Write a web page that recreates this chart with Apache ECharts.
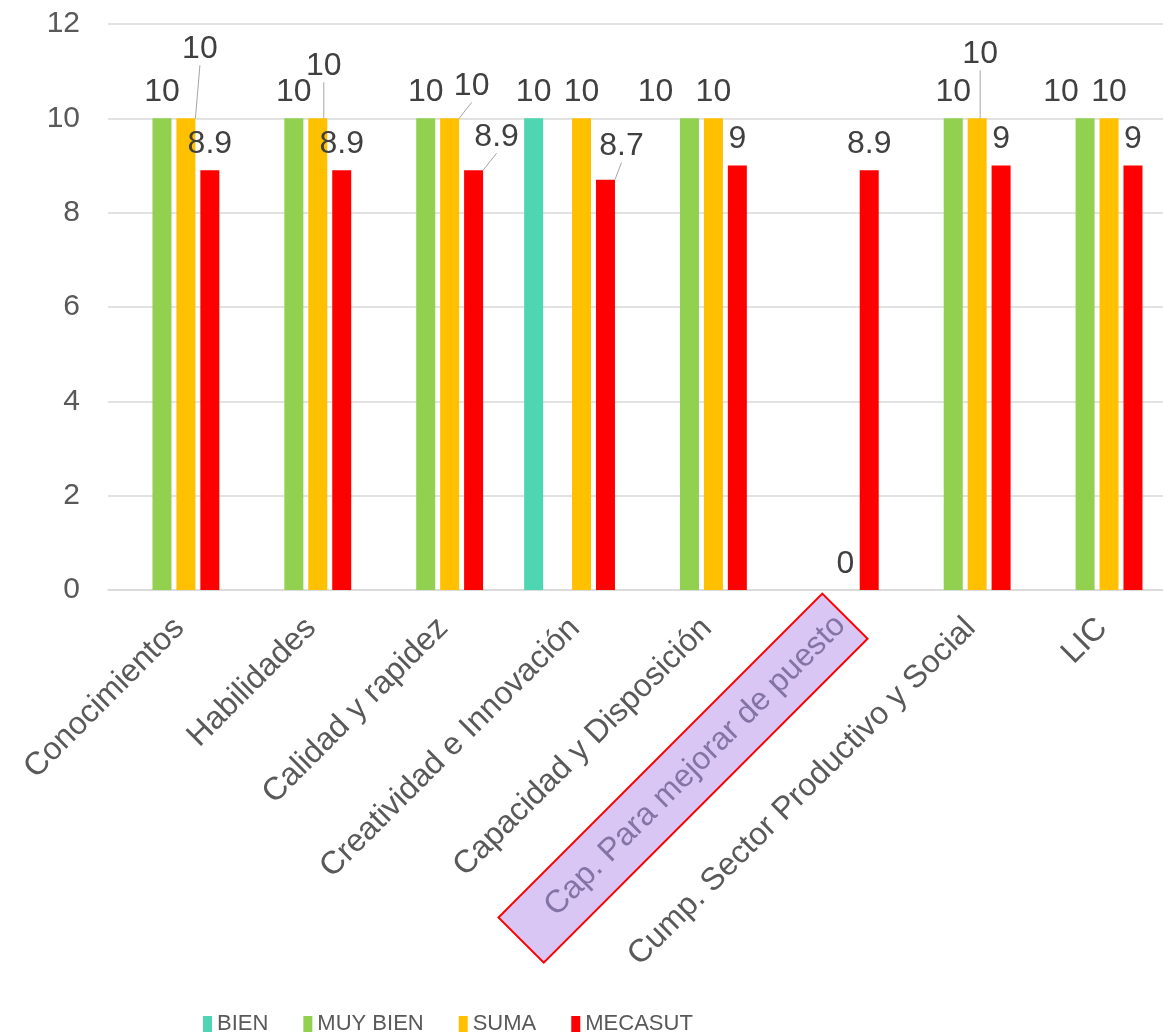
<!DOCTYPE html>
<html>
<head>
<meta charset="utf-8">
<script src="https://cdn.jsdelivr.net/npm/echarts@6/dist/echarts.min.js"></script>
<style>html,body{margin:0;padding:0;background:#fff;}#c{width:1163px;height:1036px;}</style>
</head>
<body>
<div id="c"></div>
<script>
const categories = ['Conocimientos','Habilidades','Calidad y rapidez','Creatividad e Innovación','Capacidad y Disposición','Cap. Para mejorar de puesto','Cump. Sector Productivo y Social','LIC'];
const seriesNames = ['BIEN','MUY BIEN','SUMA','MECASUT'];
const bien = [null,null,null,10,null,null,null,null];
const muyBien = [10,10,10,null,10,null,10,10];
const suma = [10,10,10,10,10,0,10,10];
const mecasut = [8.9,8.9,8.9,8.7,9,8.9,9,9];
const yTicks = [0,2,4,6,8,10,12];
const highlighted = 'Cap. Para mejorar de puesto';

const colors = ['#4dd6b1','#92d050','#ffc000','#ff0000'];
const font = 'Liberation Sans, Arial, sans-serif';

// label moves (manual label placement): key seriesIndex_dataIndex -> [dx, dy, leaderLine]
const moves = {
  '1_4': [-34, 0, false],
  '1_7': [-24, 0, false],
  '2_0': [14, -43, true],
  '2_1': [6, -26, true],
  '2_2': [22, -6, true],
  '2_6': [3, -38, true],
  '3_2': [23, -7, true],
  '3_3': [16, -7, true]
};

function mkData(arr, si) {
  return arr.map((v, i) => {
    const m = moves[si + '_' + i];
    return {value: v, labelLine: {show: !!(m && m[2])}};
  });
}

const allData = [bien, muyBien, suma, mecasut];
const series = allData.map((arr, si) => ({
  name: seriesNames[si],
  type: 'bar',
  data: mkData(arr, si),
  barWidth: 19,
  barGap: '26%',
  barCategoryGap: '31%',
  itemStyle: {color: colors[si]},
  label: {
    show: true, position: 'top', distance: 10,
    fontSize: 32, color: '#404040', fontFamily: font
  },
  labelLine: {show: false, lineStyle: {color: '#a6a6a6', width: 1}},
  labelLayout: function (p) {
    const m = moves[p.seriesIndex + '_' + p.dataIndex];
    if (m) return {dx: m[0], dy: m[1]};
    return {};
  }
}));

const chart = echarts.init(document.getElementById('c'));
chart.setOption({
  animation: false,
  backgroundColor: '#ffffff',
  color: colors,
  grid: {left: 108, right: 0, top: 24, bottom: 446, containLabel: false},
  xAxis: {
    type: 'category',
    data: categories,
    axisLine: {show: true, lineStyle: {color: '#d9d9d9', width: 1.5}},
    axisTick: {show: false},
    axisLabel: {
      interval: 0, rotate: 45, margin: -6, verticalAlign: 'top',
      fontSize: 32, color: '#595959', fontFamily: font,
      formatter: function (v) { return v === highlighted ? '{hl|' + v + '}{sp| }' : '{n|' + v + '}'; },
      rich: {
        n: {fontSize: 32, color: '#595959', fontFamily: font, padding: [15.6, 24, 0, 0]},
        sp: {fontSize: 32, width: 15.6},
        hl: {
          fontSize: 32, color: '#8474a6', fontFamily: font,
          backgroundColor: '#d9c6f5', borderColor: '#ff0000', borderWidth: 2,
          padding: [15, 5, 15, 40]
        }
      }
    }
  },
  yAxis: {
    type: 'value', min: yTicks[0], max: yTicks[yTicks.length - 1], interval: 2,
    axisLine: {show: false}, axisTick: {show: false},
    splitLine: {lineStyle: {color: '#d9d9d9', width: 1.5}},
    axisLabel: {fontSize: 30, color: '#595959', fontFamily: font, margin: 28}
  },
  legend: {
    data: seriesNames,
    top: 1008, left: 198,
    itemWidth: 9, itemHeight: 16, itemGap: 35,
    icon: 'rect',
    textStyle: {fontSize: 22, color: '#595959', fontFamily: font}
  },
  series: series
});
</script>
</body>
</html>
